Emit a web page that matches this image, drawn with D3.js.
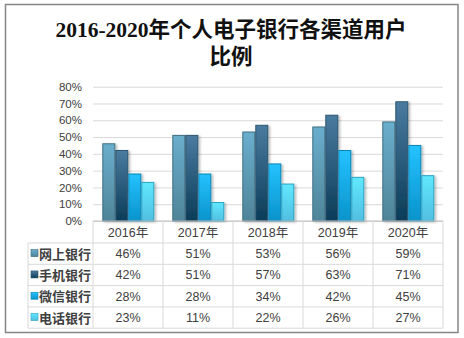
<!DOCTYPE html>
<html><head><meta charset="utf-8">
<script src="https://cdn.jsdelivr.net/npm/d3@7"></script>
<style>body{margin:0;background:#fff}svg{display:block}</style>
</head><body>
<svg id="c" width="464" height="338"></svg>
<script>
const years = ["2016年","2017年","2018年","2019年","2020年"];
const seriesNames = ["网上银行","手机银行","微信银行","电话银行"];
const online = [46,51,53,56,59];
const mobile = [42,51,57,63,71];
const wechat = [28,28,34,42,45];
const phone = [23,11,22,26,27];
const yTicks = [0,10,20,30,40,50,60,70,80];
const seriesValues = [online, mobile, wechat, phone];

const grads = [
  {top:"#6aaecd", bot:"#4f8498", stroke:"#3f6f84"},
  {top:"#4a7ba0", bot:"#0b3c57", stroke:"#2c5570"},
  {top:"#24c2ff", bot:"#0a93cb", stroke:"#0b86b8"},
  {top:"#60e8ff", bot:"#52bfe0", stroke:"#2aa3c2"}
];

const svg = d3.select("#c");
const defs = svg.append("defs");
grads.forEach((g,i)=>{
  const lg = defs.append("linearGradient").attr("id","g"+i).attr("x1",0).attr("y1",0).attr("x2",0).attr("y2",1);
  lg.append("stop").attr("offset","0%").attr("stop-color",g.top);
  lg.append("stop").attr("offset","100%").attr("stop-color",g.bot);
});
const f = defs.append("filter").attr("id","sh").attr("x","-20%").attr("y","-5%").attr("width","160%").attr("height","115%");
f.append("feDropShadow").attr("dx",2).attr("dy",1).attr("stdDeviation",1.2).attr("flood-color","#000").attr("flood-opacity",0.25);

// outer border
svg.append("rect").attr("x",5.5).attr("y",4.5).attr("width",452.5).attr("height",328)
  .attr("fill","#fff").attr("stroke","#868686").attr("stroke-width",1.5);

// title
const title = svg.append("text").attr("text-anchor","middle")
  .attr("font-family","'Liberation Serif','Noto Sans CJK SC',serif")
  .attr("font-weight","bold").attr("font-size",21.5).attr("fill","#111");
title.append("tspan").attr("x",231).attr("y",37).text("2016-2020年个人电子银行各渠道用户");
title.append("tspan").attr("x",231).attr("y",64).text("比例");

const pLeft = 93, pRight = 443, pTop = 86.7, pBottom = 221;
const x = d3.scaleBand().domain(years).range([pLeft,pRight]);
const y = d3.scaleLinear().domain([0,80]).range([pBottom,pTop]);
const xs = d3.scaleBand().domain(seriesNames).range([9.3, 70-8.7]).padding(0);

const lblFont = "'Liberation Sans','Noto Sans CJK SC',sans-serif";
const txtColor = "#404040";

// gridlines
const yAxis = d3.axisLeft(y).tickValues(yTicks).tickFormat(d=>d+"%").tickSize(-(pRight-pLeft)).tickPadding(11);
const ga = svg.append("g").attr("transform",`translate(${pLeft},0)`).call(yAxis);
ga.select(".domain").remove();
ga.selectAll(".tick line").attr("stroke","#d9d9d9").attr("stroke-width",1);
ga.selectAll(".tick text").attr("font-family",lblFont).attr("font-size",11.5).attr("fill",txtColor);

// bars
seriesNames.forEach((s,si)=>{
  svg.append("g").selectAll("rect").data(seriesValues[si]).join("rect")
    .attr("x",(d,i)=>x(years[i])+xs(s)+0.5)
    .attr("y",d=>y(d))
    .attr("width",xs.bandwidth()-1)
    .attr("height",d=>pBottom-y(d))
    .attr("fill",`url(#g${si})`)
    .attr("stroke",grads[si].stroke).attr("stroke-width",1)
    .attr("filter","url(#sh)");
});

// table
const tLeft = 28, rowH = [22,21.3,21.3,21.3,21.3];
const rowY = [pBottom];
rowH.forEach((h,i)=>rowY.push(rowY[i]+h));
const tg = svg.append("g");
const lineC = "#d9d9d9";
rowY.forEach((yy,i)=>{
  tg.append("line").attr("x1", i===0 ? pLeft : tLeft).attr("x2",pRight).attr("y1",yy).attr("y2",yy)
    .attr("stroke", i===0 ? "#bfbfbf" : lineC);
});
tg.append("line").attr("x1",tLeft).attr("x2",tLeft).attr("y1",rowY[1]).attr("y2",rowY[5]).attr("stroke",lineC);
[pLeft, ...years.map(d=>x(d)+x.bandwidth())].forEach(xx=>{
  tg.append("line").attr("x1",xx).attr("x2",xx).attr("y1",rowY[0]).attr("y2",rowY[5]).attr("stroke",lineC);
});
tg.selectAll("text.h").data(years).join("text")
  .attr("x",d=>x(d)+x.bandwidth()/2).attr("y",rowY[0]+rowH[0]/2+4.5)
  .attr("text-anchor","middle").attr("font-family",lblFont).attr("font-size",12.5).attr("fill",txtColor).text(d=>d);
seriesNames.forEach((s,si)=>{
  const cy = rowY[si+1]+rowH[si+1]/2;
  tg.append("rect").attr("x",tLeft+3).attr("y",cy-4).attr("width",7).attr("height",7)
    .attr("fill",`url(#g${si})`).attr("stroke",grads[si].stroke).attr("stroke-width",0.6);
  tg.append("text").attr("x",tLeft+11).attr("y",cy+5).attr("font-family","'Noto Sans CJK SC',sans-serif")
    .attr("font-weight","bold").attr("font-size",13).attr("fill",txtColor).text(s);
  tg.selectAll(null).data(seriesValues[si]).join("text")
    .attr("x",(d,i)=>x(years[i])+x.bandwidth()/2).attr("y",cy+4.5)
    .attr("text-anchor","middle").attr("font-family",lblFont).attr("font-size",12.5).attr("fill",txtColor)
    .text(d=>d+"%");
});
</script>
</body></html>
